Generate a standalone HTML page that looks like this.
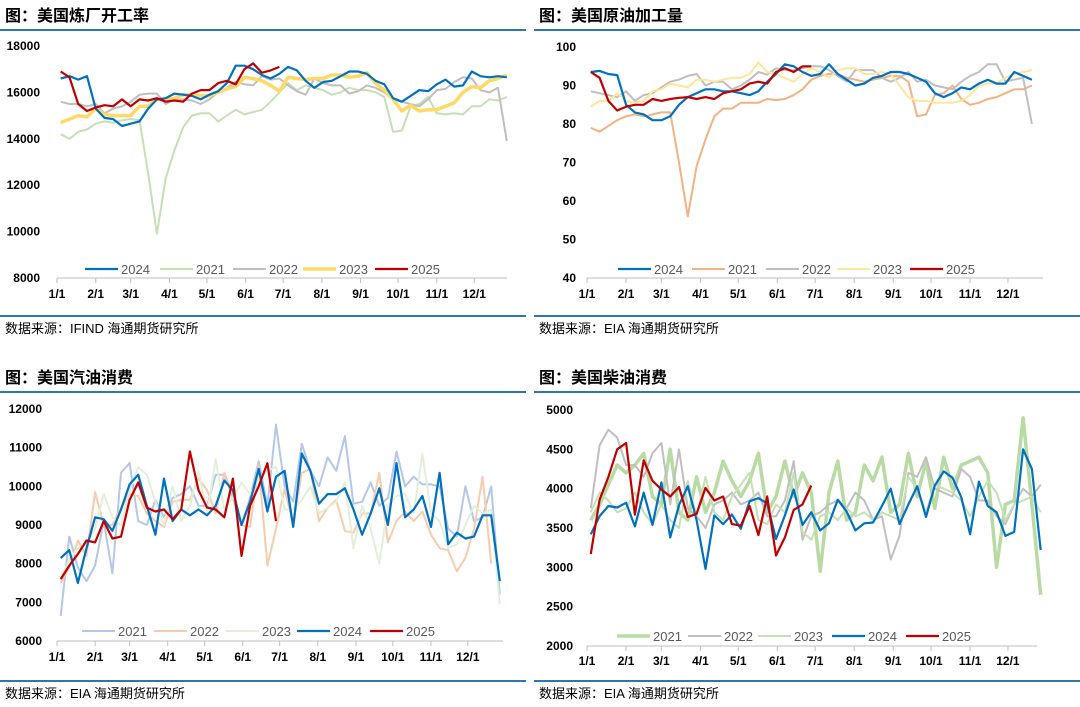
<!DOCTYPE html>
<html><head><meta charset="utf-8">
<style>
body{margin:0;background:#fff;width:1080px;height:707px;overflow:hidden;font-family:"Liberation Sans","Noto Sans CJK SC",sans-serif;}
svg{display:block}
</style></head>
<body>
<svg id="c" width="1080" height="707"></svg>
<script>
const months=["1/1","2/1","3/1","4/1","5/1","6/1","7/1","8/1","9/1","10/1","11/1","12/1"];
const monthDays=[0,31,59,90,120,151,181,212,243,273,304,334];
// Panel 1: refinery utilization
const p1Ticks=[8000,10000,12000,14000,16000,18000];
const p1Years=["2024","2021","2022","2023","2025"];
const p1_2024=[16600,16700,16550,16700,15300,14900,14850,14550,14650,14750,15300,15700,15750,15950,15900,15850,15700,15900,16050,16400,17150,17150,17000,16750,16600,16800,17100,16950,16500,16200,16450,16500,16700,16900,16900,16800,16500,16350,15750,15600,15850,16100,16050,16350,16550,16250,16300,16900,16700,16650,16700,16650];
const p1_2021=[14200,14000,14300,14400,14650,14750,14700,14800,14850,14800,12500,9900,12300,13500,14500,15000,15100,15100,14750,15000,15250,15050,15150,15250,15600,16000,16400,16100,16300,16200,16100,15900,16000,16200,16100,16100,16000,15800,14300,14350,15400,15500,15800,15100,15050,15100,15050,15400,15400,15700,15650,15800];
const p1_2022=[15600,15500,15500,15400,15500,15100,15300,15400,15600,15900,15950,15950,15500,15700,15700,15650,15500,15700,16000,16200,16450,16350,16300,16700,16550,16600,16300,16050,15900,16600,16400,16300,16300,15950,16050,16300,16200,16000,15700,15600,15500,15400,15700,16100,16150,16450,16650,16600,16100,16000,16200,13900];
const p1_2023=[14700,14850,15000,14950,15300,15050,15000,15000,15000,15400,15400,15700,15700,15750,15900,15900,15850,15850,16000,16150,16250,16650,16600,16500,16300,16050,16650,16600,16550,16600,16600,16750,16750,16650,16700,16850,16400,16100,15700,15200,15450,15200,15250,15250,15400,15550,16000,16250,16200,16500,16600,16750];
const p1_2025=[16900,16650,15500,15200,15350,15450,15400,15700,15400,15700,15650,15750,15600,15650,15600,15950,16100,16100,16400,16500,16350,17000,17250,16850,16950,17100];
// Panel 2: crude runs
const p2Ticks=[40,50,60,70,80,90,100];
const p2Years=["2024","2021","2022","2023","2025"];
const p2_2024=[93.5,93.8,93,92.7,85,83,82.5,81,81,82,85,87,88,89,89,88.5,88.5,88,87.5,88.5,91,93,95.5,95,93.5,92.5,93,95.5,93,91.5,90,90.5,92,92.5,93.5,93.5,93,92,91,88,87,88,89.5,89,90.5,91.5,90.5,90.5,93.5,92.5,91.5];
const p2_2021=[79,78,79.5,81,82,82.5,82,82.5,83,83,70,56,69,76,82,84,84,85.5,85.5,85.5,86.5,86.2,86.5,87.5,89,91.5,92.5,93,93,92,91.5,91,91.5,92,92.5,92.5,91,82,82.5,87.5,88,90,86.5,85,85.5,86.5,87,88,89,89,90];
const p2_2022=[88.5,88,87.5,87,88.5,86,87.5,88,89.5,91,91.5,92.5,93,90,91,91,89,90,91.5,93.5,92.8,94.5,94,94,94.5,95,95,94,92.5,91,94,94,94,92,91,92,93.5,91,91.5,90,89.5,89,91,92.5,93.5,95.5,95.5,91,91.5,92,80];
const p2_2023=[84.5,86,86,88,86,85.5,86,88.5,89,90.5,90,89.5,91.5,91.5,91,91.5,92,92,93,96,93.5,93,92,91,93,94.5,93.5,92,94,94.5,94.5,93,93,93.5,93,90,87,86,86,85.5,85.5,85.5,86,87.5,90,90.5,90.5,92,93,93.5,94];
const p2_2025=[93.5,92,86,83.5,84.5,85,85,86.5,86,86.5,86.8,87,86.5,87,86.5,88,88.5,89,90.5,91,90.5,93.5,94.5,93.5,95,95];
// Panel 3: gasoline
const p3Ticks=[6000,7000,8000,9000,10000,11000,12000];
const p3Years=["2021","2022","2023","2024","2025"];
const p3_2021=[6650,8700,7900,7550,7950,9100,7750,10350,10600,9100,9000,9650,9200,9700,9800,10000,9500,9500,10300,10300,9700,9000,9700,10650,9500,11600,10000,9600,11100,10400,10000,10750,10400,11300,9550,9600,10100,9500,9700,10900,10000,10250,10050,10050,10000,8900,8700,10000,9100,9200,10000,7200];
const p3_2022=[7500,7900,8600,8200,9850,9000,9000,9450,9800,9750,9300,9100,8950,9600,9650,9650,10200,9900,9300,10350,9800,9000,8950,10550,7950,8900,9950,9000,10350,10450,9100,9450,9650,8850,8800,9300,9300,10350,8550,9100,9350,9100,9350,8750,8400,8350,7800,8150,8900,10250,8000];
const p3_2023=[7600,8100,8400,8500,8900,9800,9200,9000,9900,10500,10300,9600,9000,10000,9100,9500,10400,9300,10700,9400,9700,10100,9800,10200,10400,10500,9400,9400,9650,10000,9300,9450,9600,10100,8400,9500,8900,8000,9500,9750,9800,9300,10850,9300,9100,8400,8500,9000,9500,9300,9400,6950];
const p3_2024=[8150,8350,7500,8400,9200,9150,8850,9400,10050,10300,9500,8750,10200,9100,9400,9250,9400,9250,9500,10150,9900,9000,9600,10450,9350,10250,10400,8950,10850,10400,9550,9800,9800,9950,9400,8750,9300,9950,9000,10600,9200,9400,9750,8950,10350,8500,8800,8650,8700,9250,9250,7550];
const p3_2025=[7600,7950,8250,8600,8550,9100,8650,8700,9650,10100,9450,9350,9400,9150,9400,10900,9900,9450,9400,9200,10200,8200,9500,10000,10600,9100];
// Panel 4: distillate
const p4Ticks=[2000,2500,3000,3500,4000,4500,5000];
const p4Years=["2021","2022","2023","2024","2025"];
const p4_2021=[3600,3800,4050,4300,4200,4300,4450,3900,3800,4500,3700,3600,4150,3700,3950,4350,4100,3900,4100,4450,3700,3900,4350,3900,4200,3950,2950,3950,4350,3600,3700,4300,4100,4400,3700,3800,4450,3900,4350,3750,4400,4000,4300,4350,4400,4200,3000,3800,3850,4900,3800,2650];
const p4_2022=[3750,4550,4750,4650,4300,4300,4150,4450,4580,3800,4500,3750,3650,3500,3800,3850,3950,3800,3850,3950,3650,3650,3850,4350,3350,3650,3700,3800,3850,3750,3950,3850,3600,3650,3100,3400,4200,4150,4400,4000,3950,3900,4250,4150,3850,3850,3650,3550,3800,4000,3900,4050];
const p4_2023=[3700,3950,3850,3700,3750,3950,3700,3550,3800,3600,3500,4100,3650,4150,3700,3600,3900,4050,4200,3600,3550,3800,3700,4200,3450,3350,3650,3700,3600,3750,3650,3700,3600,3700,3650,3600,4150,4000,3700,4050,4000,3950,3850,3650,3900,4100,3950,3600,3800,3850,3900,3700];
const p4_2024=[3420,3650,3780,3760,3820,3520,3950,3540,4080,3380,3790,4030,3600,2980,3660,3550,3670,3490,3840,3880,3810,3360,3660,3990,3540,3700,3470,3560,3860,3710,3470,3560,3570,3780,4000,3550,3800,4030,3640,4040,4220,4140,3890,3420,4090,3780,3700,3400,3450,4500,4250,3220];
const p4_2025=[3170,3860,4150,4500,4580,3670,4360,4100,3990,3900,4020,3640,3680,4010,3850,3900,3550,3530,3780,3410,3900,3150,3380,3730,3800,4040];

const NS="http://www.w3.org/2000/svg";
const svg=document.getElementById('c');
function mk(tag,attrs,parent,name,inter){const e=document.createElementNS(NS,tag);for(const k in attrs)e.setAttribute(k,attrs[k]);(parent||svg).appendChild(e);


return e;}

const panels=[
 {title:"图：美国炼厂开工率",src:"数据来源：IFIND   海通期货研究所",hx0:0,hx1:526,ty:30,fy:316,x0:57,x1:513,axEnd:507,yTop:46,yBot:278,ticks:p1Ticks,lblX:40,monY:298,
  series:[[p1_2021,"#c5e0b4",2],[p1_2022,"#bfbfbf",2],[p1_2023,"#ffd966",3.5],[p1_2024,"#0070c0",2.2],[p1_2025,"#c00000",2.2]],
  legend:[["2024","#0070c0",2.2,85],["2021","#c5e0b4",2,160],["2022","#bfbfbf",2,233],["2023","#ffd966",3.5,303],["2025","#c00000",2.2,375]],legY:269,years:p1Years},
 {title:"图：美国原油加工量",src:"数据来源：EIA    海通期货研究所",hx0:534,hx1:1080,ty:30,fy:316,x0:587,x1:1047,axEnd:1043,yTop:47,yBot:278,ticks:p2Ticks,lblX:576,monY:298,
  series:[[p2_2021,"#f4b183",2],[p2_2022,"#bfbfbf",2],[p2_2023,"#ffe699",2],[p2_2024,"#0070c0",2.2],[p2_2025,"#c00000",2.2]],
  legend:[["2024","#0070c0",2.2,618],["2021","#f4b183",2,692],["2022","#bfbfbf",2,766],["2023","#ffe699",2,837],["2025","#c00000",2.2,910]],legY:269,years:p2Years},
 {title:"图：美国汽油消费",src:"数据来源：EIA    海通期货研究所",hx0:0,hx1:526,ty:392,fy:681,x0:57,x1:506,axEnd:503,yTop:409,yBot:641,ticks:p3Ticks,lblX:42,monY:661,
  series:[[p3_2021,"#b4c7e7",2],[p3_2022,"#f8cbad",2],[p3_2023,"#e2f0d9",2],[p3_2024,"#0070c0",2.2],[p3_2025,"#c00000",2.2]],
  legend:[["2021","#b4c7e7",2,82],["2022","#f8cbad",2,154],["2023","#e2f0d9",2,226],["2024","#0070c0",2.2,297],["2025","#c00000",2.2,370]],legY:631,years:p3Years},
 {title:"图：美国柴油消费",src:"数据来源：EIA    海通期货研究所",hx0:534,hx1:1080,ty:392,fy:681,x0:587,x1:1047,axEnd:1037,yTop:410,yBot:646,ticks:p4Ticks,lblX:573,monY:665,
  series:[[p4_2021,"#b8dba4",3.5],[p4_2022,"#bfbfbf",2],[p4_2023,"#c5e0b4",2],[p4_2024,"#0070c0",2.2],[p4_2025,"#c00000",2.2]],
  legend:[["2021","#b8dba4",3.5,617],["2022","#bfbfbf",2,688],["2023","#c5e0b4",2,758],["2024","#0070c0",2.2,832],["2025","#c00000",2.2,906]],legY:636,years:p4Years}
];

panels.forEach((p,pi)=>{
 const g=mk('g',{},svg,'panel-'+(pi+1),false);
 const t=mk('text',{x:p.hx0+5,y:p.ty-9,'font-size':16,'font-weight':'bold',fill:'#000'},g,'panel-title',false);t.textContent=p.title;
 mk('line',{x1:p.hx0,x2:p.hx1,y1:p.ty,y2:p.ty,stroke:'#2e75b6','stroke-width':2},g,'title-underline',false);
 mk('line',{x1:p.hx0,x2:p.hx1,y1:p.fy,y2:p.fy,stroke:'#2e75b6','stroke-width':2},g,'footer-line',false);
 const s=mk('text',{x:p.hx0+5,y:p.fy+17,'font-size':13,fill:'#000'},g,'source-note',false);s.textContent=p.src;
 const tmin=p.ticks[0],tmax=p.ticks[p.ticks.length-1];
 const Y=v=>p.yBot-(v-tmin)/(tmax-tmin)*(p.yBot-p.yTop);
 const X=d=>p.x0+d/365*(p.x1-p.x0);
 p.ticks.forEach(v=>{const l=mk('text',{x:p.lblX,y:Y(v)+4,'font-size':12,'font-weight':'bold','text-anchor':'end',fill:'#000'},g,'y-tick-label',false);l.textContent=v;});
 mk('line',{x1:p.x0,x2:p.axEnd,y1:p.yBot,y2:p.yBot,stroke:'#bfbfbf','stroke-width':1},g,'x-axis',false);
 months.forEach((m,i)=>{const x=X(monthDays[i]);
  mk('line',{x1:x,x2:x,y1:p.yBot,y2:p.yBot+5,stroke:'#bfbfbf'},g,'x-tick',false);
  const l=mk('text',{x:x,y:p.monY,'font-size':12,'font-weight':'bold','text-anchor':'middle',fill:'#000'},g,'x-tick-label',false);l.textContent=m;});
 p.series.forEach((sr,si)=>{
  const pts=sr[0].map((v,i)=>X(3+7*i).toFixed(1)+','+Y(v).toFixed(1)).join(' ');
  mk('polyline',{points:pts,fill:'none',stroke:sr[1],'stroke-width':sr[2],'stroke-linejoin':'round'},g,'series-line',false);
 });
 p.legend.forEach(le=>{
  const lg=mk('g',{},g,'legend-entry',false);
  mk('line',{x1:le[3],x2:le[3]+33,y1:p.legY,y2:p.legY,stroke:le[1],'stroke-width':le[2]},lg,'legend-swatch',false);
  const lt=mk('text',{x:le[3]+36,y:p.legY+5,'font-size':13,fill:'#595959'},lg,'legend-label',false);lt.textContent=le[0];
 });
});
</script>
</body></html>
